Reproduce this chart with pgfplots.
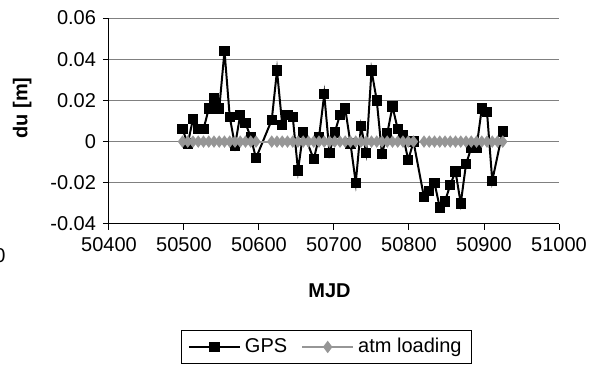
\documentclass[border=0pt]{standalone}
\usepackage{fontspec}
\setmainfont{Liberation Sans}
\usepackage{pgfplots}
\pgfplotsset{compat=1.18}
\definecolor{atmgray}{RGB}{150,150,150}
\definecolor{gridgray}{RGB}{128,128,128}
\pgfplotstableread{
x y
50498 0.006
50505 -0.001
50512 0.011
50519 0.006
50526 0.006
50533 0.016
50540 0.021
50547 0.016
50554 0.044
50561 0.012
50568 -0.002
50575 0.013
50582 0.009
50589 0.002
50596 -0.008
50617 0.0105
50624 0.0345
50631 0.008
50638 0.013
50645 0.012
50652 -0.014
50659 0.0045
50673 -0.0085
50680 0.002
50687 0.023
50694 -0.0055
50701 0.0045
50708 0.013
50715 0.016
50722 -0.001
50729 -0.020
50736 0.0075
50743 -0.0055
50750 0.0345
50757 0.020
50764 -0.006
50771 0.004
50778 0.017
50785 0.006
50792 0.003
50799 -0.009
50806 0.000
50820 -0.027
50827 -0.024
50834 -0.020
50841 -0.032
50848 -0.029
50855 -0.021
50862 -0.0145
50869 -0.030
50876 -0.011
50883 -0.003
50890 -0.003
50897 0.016
50904 0.0145
50911 -0.019
50925 0.005
}\gpsdata
\pgfplotstableread{
x y
50498 0
50505 0
50512 0
50519 0
50526 0
50533 0
50540 0
50547 0
50554 0
50561 0
50568 0
50575 0
50582 0
50589 0
50596 0
50617 0
50624 0
50631 0
50638 0
50645 0
50652 0
50659 0
50666 0
50673 0
50680 0
50687 0
50694 0
50701 0
50708 0
50715 0
50722 0
50729 0
50736 0
50743 0
50750 0
50757 0
50764 0
50771 0
50778 0
50785 0
50792 0
50799 0
50806 0
50820 0
50827 0
50834 0
50841 0
50848 0
50855 0
50862 0
50869 0
50876 0
50883 0
50890 0
50897 0
50904 0
50911 0
50918 0
50925 0
}\atmdata
\begin{document}
\begin{tikzpicture}[font=\fontsize{10}{12}\selectfont]
\useasboundingbox (-54.5pt,-72.5pt) rectangle (245.5pt,112pt);
\begin{axis}[
  at={(0pt,0pt)}, anchor=south west,
  scale only axis, width=225pt, height=103pt,
  xmin=50400, xmax=51000, ymin=-0.04, ymax=0.06,
  scaled ticks=false,
  xtick={50400,50500,50600,50700,50800,50900,51000},
  xticklabels={50400,50500,50600,50700,50800,50900,51000},
  ytick={-0.04,-0.02,0,0.02,0.04,0.06},
  yticklabels={-0.04,-0.02,0,0.02,0.04,0.06},
  axis x line*=bottom, axis y line*=left,
  axis line style={-, black, line width=0.5pt},
  tick align=outside, major tick length=3pt,
  tick style={black, line width=0.5pt},
  ymajorgrids, grid style={gridgray, line width=0.5pt},
  xticklabel style={font=\fontsize{10}{12}\selectfont},
  yticklabel style={font=\fontsize{10}{12}\selectfont},
  every axis x label/.style={at={(axis description cs:0.49,-0.325)}, anchor=center, font=\fontsize{10}{12}\selectfont\bfseries},
  every axis y label/.style={at={(axis description cs:-0.193,0.563)}, rotate=90, anchor=center, font=\fontsize{10}{12}\selectfont\bfseries},
  xlabel={MJD}, ylabel={du [m]},
  legend style={at={(axis description cs:0.484,-0.597)}, anchor=center, draw=black, line width=0.5pt,
    legend columns=2, /tikz/every even column/.append style={column sep=5pt},
    inner xsep=3pt, inner ysep=2pt, font=\fontsize{10}{12}\selectfont},
  legend image code/.code={\draw[mark repeat=2,mark phase=2] plot coordinates {(0pt,0pt)(12.75pt,0pt)(25.5pt,0pt)};},
]
\addplot[black, line width=1pt, mark=square*, mark size=2.1pt, mark options={solid, fill=black}] table[x=x,y=y] {\gpsdata};
\addlegendentry{GPS}
\addplot[atmgray, line width=1pt, mark=diamond*, mark size=2.3pt, mark options={solid, fill=atmgray, draw=atmgray}] table[x=x,y=y] {\atmdata};
\addlegendentry{atm loading}
\end{axis}
\node at (-54.5pt,-16pt) {0};
\end{tikzpicture}
\end{document}
